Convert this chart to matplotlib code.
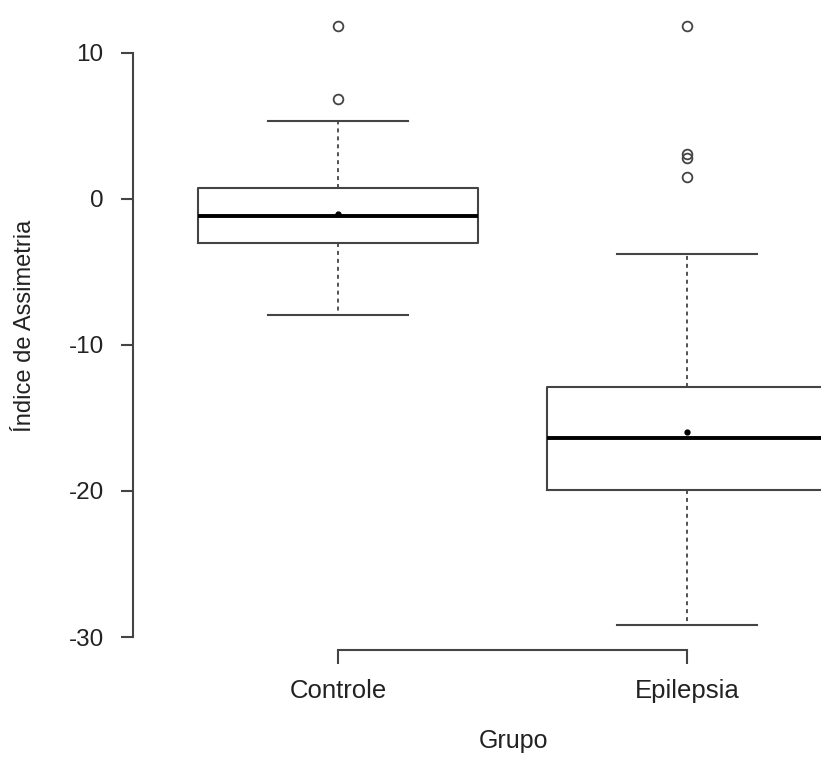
import matplotlib
matplotlib.use("Agg")
import matplotlib.pyplot as plt

plt.rcParams['font.family'] = ['Liberation Sans', 'DejaVu Sans']

# ---- data ----
groups = ["Controle", "Epilepsia"]
q1 = [-3.0, -19.9]
med = [-1.15, -16.4]
q3 = [0.75, -12.9]
whislo = [-7.95, -29.2]
whishi = [5.35, -3.75]
means = [-1.03, -15.96]
fliers = [[11.85, 6.85], [11.85, 3.08, 2.8, 1.5]]
yticks = [-30, -20, -10, 0, 10]

W, H = 821, 758
fig = plt.figure(figsize=(W / 100, H / 100), dpi=100)
ax = fig.add_axes([133 / W, (H - 650) / H, (W - 133) / W, 650 / H])

stats = []
for i, g in enumerate(groups):
    stats.append(dict(label=g, q1=q1[i], med=med[i], q3=q3[i],
                      whislo=whislo[i], whishi=whishi[i],
                      mean=means[i], fliers=fliers[i]))

lc = '#444444'
ax.bxp(stats, positions=[1, 2], widths=0.8, showmeans=True,
       boxprops=dict(color=lc, linewidth=1.5),
       whiskerprops=dict(color=lc, linewidth=1.3, linestyle=(0, (2.2, 2.2))),
       capprops=dict(color=lc, linewidth=1.5),
       capwidths=0.4,
       medianprops=dict(color='black', linewidth=2.8),
       meanprops=dict(marker='o', markerfacecolor='black', markeredgecolor='black',
                      markersize=3.5),
       flierprops=dict(marker='o', markerfacecolor='none', markeredgecolor=lc,
                       markersize=7, markeredgewidth=1.3))

ax.set_xlim(1 - 205 / 349, 1 + 483 / 349)
ax.set_ylim(-30 - 13 / 14.6, 10 + 53 / 14.6)

for s in ['top', 'right']:
    ax.spines[s].set_visible(False)
ax.spines['left'].set_bounds(-30, 10)
ax.spines['bottom'].set_bounds(1, 2)
for s in ['left', 'bottom']:
    ax.spines[s].set_color(lc)
    ax.spines[s].set_linewidth(1.5)

ax.set_yticks(yticks)
ax.set_yticklabels([str(t) for t in yticks])
ax.set_xticks([1, 2])
ax.set_xticklabels(groups)
ax.tick_params(axis='y', length=8.6, width=1.5, color=lc, pad=12.5,
               labelsize=17.5, labelcolor='#222222')
ax.tick_params(axis='x', length=10, width=1.5, color=lc, pad=11,
               labelsize=18.5, labelcolor='#222222')

fig.text(513 / W, 1 - 729 / H, "Grupo", ha='center', va='top',
         fontsize=18, color='#222222')
fig.text(25 / W, 1 - 326 / H, "Índice de Assimetria", rotation=90,
         ha='center', va='center', fontsize=17, color='#222222')

fig.savefig("out.png", dpi=100)
